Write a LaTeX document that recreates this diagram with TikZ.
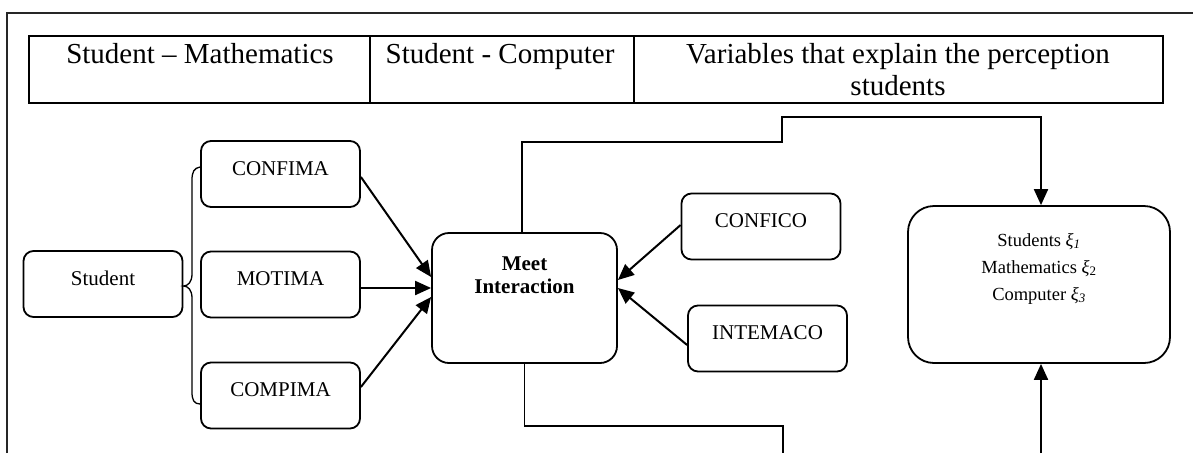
\documentclass[tikz,border=0pt]{standalone}
\usepackage{fontspec}
\setmainfont{Liberation Serif}
\usetikzlibrary{arrows.meta,positioning}

\tikzset{
  box/.style={draw, line width=1.8pt, rounded corners=10pt, minimum width=159pt, minimum height=66pt,
    inner sep=0pt, font=\fontsize{21}{24}\selectfont, text height=14pt, text depth=12pt},
  bigbox/.style={draw, line width=1.8pt, inner sep=0pt},
  head/.style={font=\fontsize{29}{32}\selectfont, anchor=base, inner sep=0pt, align=center},
  arr/.style={line width=2pt, -{Triangle[length=16pt,width=14pt]}},
  link/.style={line width=1.8pt},
  brace/.style={line width=1.3pt},
}

\begin{document}
\begin{tikzpicture}[x=1pt,y=-1pt]
\useasboundingbox (0,0) rectangle (1193,453);

% frame round the figure
\draw[line width=1.6pt, black!85] (7,453) -- (7,13) -- (1193,13);

% header table
\draw[line width=2.2pt] (29,36) rectangle (1163,103);
\draw[line width=2.2pt] (370,36) -- (370,103);
\draw[line width=2.2pt] (634,36) -- (634,103);
\node[head] (hmath) at (200,63) {Student – Mathematics};
\node[head] (hcomp) at (500,63) {Student - Computer};
% base of a two-line node sits on its last line
\node[head] (hvars) at (898,95) {Variables that explain the perception\\students};

% boxes
\node[box] (student) at (103,284) {Student};
\node[box] (confima) at (280.5,174) {CONFIMA};
\node[box] (motima) at (280.5,284.5) {MOTIMA};
\node[box] (compima) at (280.5,395.5) {COMPIMA};
\node[box] (confico) at (761,226.5) {CONFICO};
\node[box] (intemaco) at (767.5,338.5) {INTEMACO};

\node[bigbox, rounded corners=17pt, minimum width=185pt, minimum height=130pt] (meet) at (524.5,298) {};
\node[font=\bfseries\fontsize{21}{23}\selectfont, align=center, inner sep=0pt, anchor=base] (meettxt) at (524.5,293) {Meet\\Interaction};

\node[bigbox, rounded corners=26pt, minimum width=262pt, minimum height=157pt] (vars) at (1039,284.5) {};
\node[font=\fontsize{18.5}{27}\selectfont, align=center, inner sep=0pt, anchor=base] (varstxt) at (1039,300)
  {Students \textit{ξ}\textsubscript{\textit{1}}\\Mathematics \textit{ξ}\textsubscript{2}\\Computer \textit{ξ}\textsubscript{\textit{3}}};

% brace
\draw[brace] ([yshift=7pt]confima.west) .. controls (194,168) and (192,172) .. (192,180) -- (192,274)
  .. controls (192,282) and (188,286) .. ([yshift=-2pt]student.east)
  .. controls (188,286) and (192,290) .. (192,298) -- (192,392)
  .. controls (192,400) and (194,404) .. ([yshift=-8.5pt]compima.west);

% arrows into meet
\draw[arr] ([yshift=-3pt]confima.east) -- ([yshift=21pt]meet.west);
\draw[arr] ([yshift=-3.5pt]motima.east) -- ([yshift=10pt]meet.west);
\draw[arr] ([yshift=8.5pt]compima.east) -- ([yshift=1pt]meet.west);
\draw[arr] ([yshift=1.5pt]confico.west) -- ([yshift=18pt]meet.east);
\draw[arr] ([yshift=-6.5pt]intemaco.west) -- ([yshift=10pt]meet.east);

% links to the right box
\draw[arr] ([xshift=-2.5pt]meet.north) |- (782,142) -- (782,117) -| ([xshift=2pt]vars.north);
\coordinate (cutA) at (783,453);
\coordinate (cutB) at (1041,453);
\draw[link] (meet.south) |- (783,426) -- (cutA);
\draw[arr] (cutB) -- (cutB |- vars.south);
\end{tikzpicture}
\end{document}
